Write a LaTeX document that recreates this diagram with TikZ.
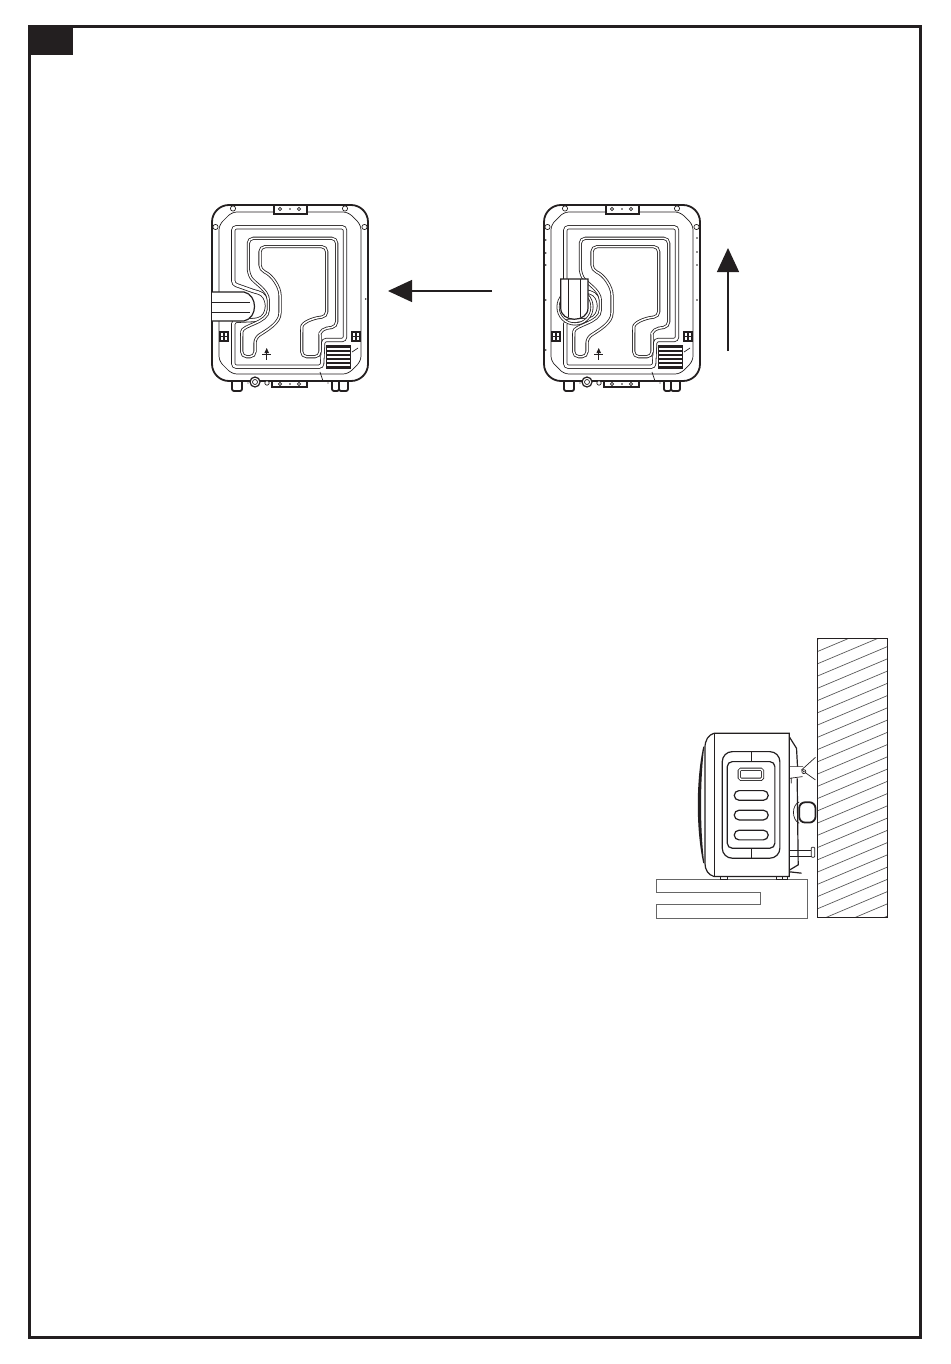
\documentclass[tikz,border=0pt]{standalone}
\usepackage{xcolor}
\usetikzlibrary{arrows.meta, positioning}
\definecolor{ink}{RGB}{35, 31, 32}
\tikzset{
    thinline/.style = {draw=ink, line width=0.7pt},
    bodyline/.style = {draw=ink, line width=1.2pt},
    heavyline/.style = {draw=ink, line width=1.8pt},
    graybox/.style = {draw=black!60, line width=0.8pt},
    doubleline/.style = {draw=ink, line width=0.8pt, double=white, double distance=#1, rounded corners=3pt},
    bigarrow/.style = {ink, line width=1.3pt, -{Triangle[length=24pt, width=22pt]}},
    backview/.pic = {
        % feet and bottom bracket hang below the body
        \foreach \px/\pw in {20/10, 120/7, 127/9}
            \draw [heavyline, fill=white, rounded corners=2pt] (\px,175) rectangle ++(\pw,11);
        \draw [heavyline, rounded corners=17pt, fill=white] (0,0) rectangle (156,176);
        % flange
        \draw [thinline, rounded corners=5pt] (20,7) -- (136,7) -- (149,20) -- (149,156) -- (136,169) -- (20,169) -- (7,156) -- (7,20) -- cycle;
        \draw [bodyline, fill=white] (62,0) rectangle (95,9);
        \draw [thinline] (108,167) -- (111,176);
        \draw [bodyline, fill=white] (60,176) rectangle (95,182);
        \foreach \px/\py in {21/3.5, 133/3.5, 3.5/22, 152.5/22}
            \draw [thinline, fill=white] (\px,\py) circle (2.6pt);
        \foreach \px/\py in {68/4, 87/4, 68/179, 87/179}
            \draw [thinline] (\px,\py) circle (1.6pt);
        \foreach \px/\py in {78/4, 78/179}
            \fill [ink] (\px,\py) circle (0.8pt);
        % tier
        \draw [doubleline=2.6pt] (21.3,79) -- (21.3,22.3) -- (133,22.3) -- (133,135) -- (111.3,135) -- (110,161.7)
            -- (21.3,161.7) -- (21.3,116) -- (43,115) .. controls (58,112) and (58,90) .. (43,86.7) -- cycle;
        % corridor
        \draw [doubleline=1.5pt, rounded corners=5pt] (36.3,68) -- (36.3,33.3) -- (124.7,33.3) -- (124.7,121.7)
            -- (109.7,124) .. controls (108,128) .. (108,135) -- (108,151.7) -- (89.7,151.7) -- (89.7,126.7)
            .. controls (90,118) and (100,113) .. (114.7,111.7) -- (114.7,41.7) -- (48,41.7) -- (48,65)
            .. controls (60,70) and (68,82) .. (68,95) -- (68,103) .. controls (68,118) and (55,125) .. (43,133)
            -- (43,151.7) -- (29.7,151.7) -- (29.7,131.7) .. controls (30,120) and (56.3,118) .. (56.3,100)
            .. controls (56.3,85) and (42,78) .. (36.3,68) -- cycle;
        % vent
        \draw [thinline, fill=white] (114,140) rectangle (138,163);
        \foreach \py in {142,146,150,154,158,162}
            \draw [ink, line width=1.9pt] (114,\py) -- (138,\py);
        % drain mark
        \fill [ink] (54.7,143) -- (57,148) -- (52.4,148) -- cycle;
        \draw [thinline] (54.7,146) -- (54.7,155) (50,149) -- (59.4,149);
        \draw [thinline] (140,147) -- (146,143);
        % hinges
        \foreach \px in {8,140} {
            \draw [heavyline, fill=white] (\px,127) rectangle ++(8,9);
            \draw [ink, line width=1.2pt] (\px+4,127) -- ++(0,9) (\px,131.5) -- ++(8,0);
        }
        % screws at the bottom
        \draw [bodyline, fill=white] (43,177) circle (5pt);
        \draw [thinline] (43,177) circle (2.5pt);
        \draw [thinline, fill=white] (55,178) circle (2.2pt);
        \fill [ink] (36,178) circle (0.7pt) (116,178) circle (0.7pt);
    }
}

\begin{document}
\begin{tikzpicture}[x=1pt, y=-1pt]
\useasboundingbox (0,0) rectangle (950,1364);

% frame
\draw [ink, line width=3pt] (29,27) rectangle (920,1337);
\fill [ink] (29,27) rectangle (73,55);

% back views
\pic at (212,205) {backview};
\pic at (544,205) {backview};

% hose going out sideways
\begin{scope}[shift={(212,205)}]
\fill [white] (0,87) -- (32,87) .. controls (46,90) and (46,113) .. (32,116) -- (0,116) -- cycle;
\draw [bodyline] (0,87) -- (32,87) .. controls (46,90) and (46,113) .. (32,116) -- (0,116);
\draw [thinline] (0,97) -- (38,97) (0,107) -- (38,107);
\fill [ink] (153.7,94) circle (0.9pt);
\end{scope}

% hose going up
\begin{scope}[shift={(544,205)}]
\draw [doubleline=1.4pt, rounded corners=0pt] (31,102) circle (17pt);
\fill [white] (16.7,74) -- (44,74) -- (44,103) .. controls (44,118) and (16.7,118) .. (16.7,103) -- cycle;
\draw [bodyline] (16.7,74) -- (44,74) -- (44,103) .. controls (44,118) and (16.7,118) .. (16.7,103) -- cycle;
\draw [thinline] (24,74) -- (24,112) (36,74) -- (36,112);
\foreach \py in {35,48,60,95,145}
    \fill [ink] (1.7,\py) circle (0.9pt);
\foreach \py in {33,47,60,95}
    \fill [ink] (153,\py) circle (0.9pt);
\end{scope}

% arrows
\coordinate (lefttail) at (492,291);
\coordinate (lefttip) at (388,291);
\coordinate (uptail) at (728,351);
\coordinate (uptip) at (728,248);
\draw [bigarrow] (lefttail) -- (lefttip);
\draw [bigarrow] (uptail) -- (uptip);

% wall
\begin{scope}
\clip (817,638) rectangle (887,917);
\foreach \ny in {0,...,25}
    \draw [black!65, line width=0.7pt] (817,639.5+12.25*\ny) -- (887,610+12.25*\ny);
\end{scope}
\draw [ink, line width=1pt] (817,638) rectangle (887,917);

% side view
\begin{scope}[shift={(650,720)}, x=0.333pt, y=-0.333pt]
% steps
\draw [graybox] (20,478) -- (472,478) -- (472,595) -- (20,595) -- (20,553) -- (332,553) -- (332,517) -- (20,517) -- cycle;
% rear part and pipes
\draw [bodyline] (418,50) -- (440,85) -- (443,140) (420,450) -- (445,435) -- (442,175);
\draw [thinline] (420,140) -- (460,140) (420,175) -- (458,170) (424,175) -- (424,190);
\draw [thinline, fill=white] (497,112) -- (455,150) -- (497,180);
\draw [thinline, fill=white] (462,155) circle (2pt);
\fill [ink] (462,155) circle (0.8pt);
\draw [thinline] (418,390) -- (484,390) (418,408) -- (484,408);
\draw [thinline, fill=white, rounded corners=1pt] (484,382) rectangle (495,412);
\draw [bodyline] (420,456) -- (455,460);
\draw [thinline] (448,246) .. controls (425,255) and (425,300) .. (448,310);
\draw [heavyline, fill=white, rounded corners=6pt] (448,247) -- (497,247) -- (497,308) -- (448,308) -- cycle;
% feet
\draw [bodyline, fill=white] (212,470) rectangle (232,480);
\draw [bodyline, fill=white] (380,470) rectangle (413,480);
\draw [thinline] (396,470) -- (396,480);
% body
\draw [bodyline, fill=white] (192,40) -- (418,40) -- (418,470) -- (192,470) .. controls (175,465) and (165,450) .. (165,430) -- (165,85) .. controls (165,60) and (175,45) .. (192,40) -- cycle;
\draw [thinline] (192,40) -- (192,470);
% door
\fill [ink] (160,80) .. controls (138,180) and (138,330) .. (160,430) -- (163,430) .. controls (150,330) and (150,180) .. (163,80) -- cycle;
% panel
\draw [bodyline, rounded corners=10pt] (217,95) rectangle (390,415);
\draw [bodyline, rounded corners=5pt] (232,125) rectangle (375,385);
\draw [thinline] (303,95) -- (303,125) (303,385) -- (303,415);
\draw [doubleline=1.5pt, rounded corners=1.5pt] (268,148) rectangle (338,178);
\foreach \ny in {212,271,331}
    \draw [bodyline, rounded corners=4.8pt] (253,\ny) rectangle (355,\ny+29);
\end{scope}
\end{tikzpicture}
\end{document}
